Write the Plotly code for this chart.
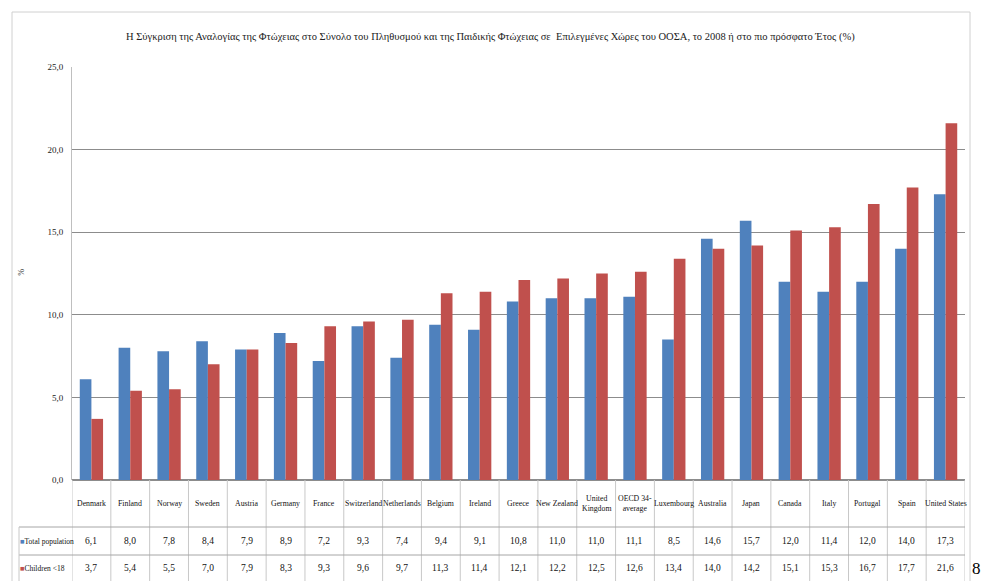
import plotly.graph_objects as go

title = ("Η Σύγκριση της Αναλογίας της Φτώχειας στο Σύνολο του Πληθυσμού και της Παιδικής Φτώχειας σε  "
         "Επιλεγμένες Χώρες του ΟΟΣΑ, το 2008 ή στο πιο πρόσφατο Έτος (%)")

countries = ["Denmark", "Finland", "Norway", "Sweden", "Austria", "Germany", "France",
             "Switzerland", "Netherlands", "Belgium", "Ireland", "Greece", "New Zealand",
             "United Kingdom", "OECD 34-average", "Luxembourg", "Australia", "Japan",
             "Canada", "Italy", "Portugal", "Spain", "United States"]
country_labels = ["Denmark", "Finland", "Norway", "Sweden", "Austria", "Germany", "France",
                  "Switzerland", "Netherlands", "Belgium", "Ireland", "Greece", "New Zealand",
                  "United<br>Kingdom", "OECD 34-<br>average", "Luxembourg", "Australia", "Japan",
                  "Canada", "Italy", "Portugal", "Spain", "United States"]
total_population = [6.1, 8.0, 7.8, 8.4, 7.9, 8.9, 7.2, 9.3, 7.4, 9.4, 9.1, 10.8, 11.0,
                    11.0, 11.1, 8.5, 14.6, 15.7, 12.0, 11.4, 12.0, 14.0, 17.3]
children = [3.7, 5.4, 5.5, 7.0, 7.9, 8.3, 9.3, 9.6, 9.7, 11.3, 11.4, 12.1, 12.2,
            12.5, 12.6, 13.4, 14.0, 14.2, 15.1, 15.3, 16.7, 17.7, 21.6]
series_names = ["Total population", "Children <18"]
y_ticks = [0, 5, 10, 15, 20, 25]

BLUE = "#4F81BD"
RED = "#C0504D"
FONT = "'Liberation Serif', 'Times New Roman', 'DejaVu Serif', serif"
W, H = 981, 581
L, R, T, B = 72, 16, 67, 101
plot_h = H - T - B
plot_w = W - L - R


def py(pix):
    """convert pixel y (from top) into paper y"""
    return (H - B - pix) / plot_h


def px(pix):
    return (pix - L) / plot_w


fig = go.Figure()
fig.add_trace(go.Bar(x=countries, y=total_population, name=series_names[0],
                     marker_color=BLUE, marker_line_width=0))
fig.add_trace(go.Bar(x=countries, y=children, name=series_names[1],
                     marker_color=RED, marker_line_width=0))

annotations = []
shapes = []

# title
annotations.append(dict(text=title, xref="paper", yref="paper", x=px(490), y=py(37),
                        xanchor="center", yanchor="middle", showarrow=False,
                        font=dict(family=FONT, size=10.5, color="#222")))
# y-axis title
annotations.append(dict(text="%", xref="paper", yref="paper", x=px(21), y=py(272),
                        xanchor="center", yanchor="middle",
                        textangle=90, showarrow=False, font=dict(family=FONT, size=8, color="#333")))

row_header = (480, 527)
row_total = (527, 555)
row_child = (555, 581)

n = len(countries)
for i, (c, lab) in enumerate(zip(countries, country_labels)):
    annotations.append(dict(text=lab, x=i, xref="x", yref="paper",
                            y=py(sum(row_header) / 2), xanchor="center", yanchor="middle",
                            showarrow=False,
                            font=dict(family=FONT, size=7.8, color="#111")))
    annotations.append(dict(text=f"{total_population[i]:.1f}".replace(".", ","), x=i, xref="x",
                            yref="paper", y=py(sum(row_total) / 2), xanchor="center",
                            yanchor="middle", showarrow=False,
                            font=dict(family=FONT, size=9.5, color="#111")))
    annotations.append(dict(text=f"{children[i]:.1f}".replace(".", ","), x=i, xref="x",
                            yref="paper", y=py(sum(row_child) / 2), xanchor="center",
                            yanchor="middle", showarrow=False,
                            font=dict(family=FONT, size=9.5, color="#111")))

# legend-like row labels
for name, color, row in [(series_names[0], BLUE, row_total), (series_names[1], RED, row_child)]:
    annotations.append(dict(text=f"<span style='color:{color}'>■</span>{name.replace('<', '&lt;')}",
                            xref="paper", yref="paper", x=px(18), y=py(sum(row) / 2),
                            xanchor="left", yanchor="middle", showarrow=False,
                            font=dict(family=FONT, size=7.5, color="#111")))

# table grid lines
grid_col = "#C8C8C8"
for i in range(n + 1):
    shapes.append(dict(type="line", xref="x", yref="paper", x0=i - 0.5, x1=i - 0.5,
                       y0=py(row_header[0]), y1=py(row_child[1] + 2),
                       line=dict(color=grid_col, width=1)))
for yy in [row_total[0], row_child[0]]:
    shapes.append(dict(type="line", xref="paper", yref="paper", x0=px(19), x1=1,
                       y0=py(yy), y1=py(yy), line=dict(color="#A6A6A6", width=1)))
shapes.append(dict(type="line", xref="paper", yref="paper", x0=px(19), x1=px(19),
                   y0=py(row_total[0]), y1=py(row_child[1] + 2),
                   line=dict(color=grid_col, width=1)))
# outer chart border
shapes.append(dict(type="rect", xref="paper", yref="paper",
                   x0=px(12), x1=px(970), y0=py(H + 5), y1=py(12),
                   line=dict(color="#D0D0D0", width=1)))

# stray page number
annotations.append(dict(text="8", xref="paper", yref="paper", x=px(977), y=py(568),
                        xanchor="center", yanchor="middle",
                        showarrow=False, font=dict(family=FONT, size=17, color="#000")))

fig.update_layout(
    width=W, height=H,
    margin=dict(l=L, r=R, t=T, b=B),
    paper_bgcolor="white", plot_bgcolor="white",
    barmode="group", bargap=0.4, bargroupgap=0,
    showlegend=False,
    separators=",.",
    annotations=annotations, shapes=shapes,
    font=dict(family=FONT),
)
fig.update_xaxes(range=[-0.5, n - 0.5], showticklabels=False, showgrid=False,
                 showline=False, ticks="")
fig.update_yaxes(range=[0, 25], tickvals=y_ticks, tickformat=".1f",
                 showgrid=True, gridcolor="#8C8C8C", gridwidth=1,
                 showline=True, linecolor="#BFBFBF", zeroline=True, zerolinecolor="#8C8C8C",
                 ticks="", ticklen=0, ticklabelstandoff=6,
                 tickfont=dict(family=FONT, size=9, color="#222"))

fig.write_html("out.html", config={"displayModeBar": False},
               post_script="document.body.style.margin='0';document.body.style.overflow='hidden';")
